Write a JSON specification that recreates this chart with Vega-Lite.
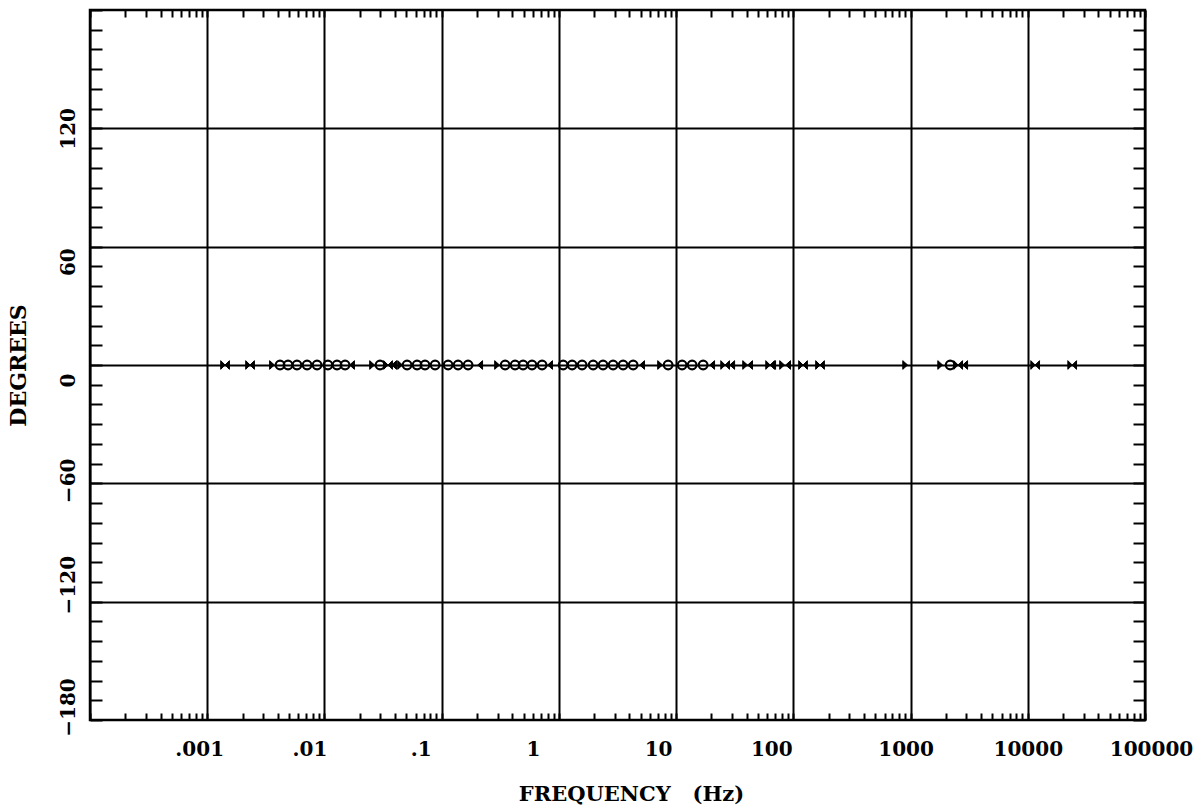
{
  "$schema": "https://vega.github.io/schema/vega-lite/v6.json",
  "width": 1055,
  "height": 710,
  "autosize": "none",
  "padding": {"left": 90, "top": 10, "right": 59, "bottom": 92},
  "background": "white",
  "config": {"view": {"stroke": "black", "strokeWidth": 2.5}},
  "datasets": {
    "pts": [
      {"f": 0.00142, "type": "bowtie"}, {"f": 0.00232, "type": "bowtie"}, {"f": 0.00357, "type": "right"},
      {"f": 0.00418, "type": "circle"}, {"f": 0.00489, "type": "circle"}, {"f": 0.00583, "type": "circle"},
      {"f": 0.00711, "type": "circle"}, {"f": 0.00865, "type": "circle"}, {"f": 0.0107, "type": "circle"},
      {"f": 0.0128, "type": "circle"}, {"f": 0.015, "type": "circle"}, {"f": 0.0172, "type": "left"},
      {"f": 0.0255, "type": "right"}, {"f": 0.0298, "type": "circle"}, {"f": 0.0349, "type": "bowtie"},
      {"f": 0.0393, "type": "left"}, {"f": 0.0442, "type": "right"}, {"f": 0.0507, "type": "circle"},
      {"f": 0.0617, "type": "circle"}, {"f": 0.0721, "type": "circle"}, {"f": 0.0879, "type": "circle"},
      {"f": 0.1135, "type": "circle"}, {"f": 0.138, "type": "circle"}, {"f": 0.168, "type": "circle"},
      {"f": 0.213, "type": "left"}, {"f": 0.297, "type": "right"}, {"f": 0.348, "type": "circle"},
      {"f": 0.423, "type": "circle"}, {"f": 0.495, "type": "circle"}, {"f": 0.59, "type": "circle"},
      {"f": 0.719, "type": "circle"}, {"f": 0.841, "type": "left"}, {"f": 1.087, "type": "circle"},
      {"f": 1.297, "type": "circle"}, {"f": 1.578, "type": "circle"}, {"f": 1.96, "type": "circle"},
      {"f": 2.38, "type": "circle"}, {"f": 2.9, "type": "circle"}, {"f": 3.53, "type": "circle"},
      {"f": 4.3, "type": "circle"}, {"f": 5.13, "type": "left"}, {"f": 7.3, "type": "right"},
      {"f": 8.55, "type": "circle"}, {"f": 11.25, "type": "circle"}, {"f": 13.7, "type": "circle"},
      {"f": 17.0, "type": "circle"}, {"f": 20.3, "type": "left"}, {"f": 26.2, "type": "bowtie"},
      {"f": 30.1, "type": "left"}, {"f": 38.8, "type": "right"}, {"f": 42.8, "type": "left"},
      {"f": 63.4, "type": "bowtie"}, {"f": 67.3, "type": "left"}, {"f": 80.2, "type": "right"},
      {"f": 90.3, "type": "left"}, {"f": 121, "type": "bowtie"}, {"f": 169, "type": "bowtie"},
      {"f": 900, "type": "right"}, {"f": 1790, "type": "right"}, {"f": 2178, "type": "circle"},
      {"f": 2548, "type": "bowtie"}, {"f": 2924, "type": "left"}, {"f": 11560, "type": "bowtie"},
      {"f": 23930, "type": "bowtie"}
    ]
  },
  "data": {"name": "pts"},
  "resolve": {"axis": {"x": "independent", "y": "independent"}},
  "layer": [
    {
      "transform": [{"filter": "datum.type == 'circle'"}],
      "mark": {"type": "point", "shape": "circle", "filled": false, "stroke": "black", "strokeWidth": 2.2, "size": 76, "opacity": 1},
      "encoding": {
        "x": {
          "field": "f", "type": "quantitative",
          "scale": {"type": "log", "domain": [0.0001, 100000], "nice": false},
          "axis": {
            "orient": "bottom",
            "title": "FREQUENCY\u00a0\u00a0\u00a0(Hz)",
            "titleFont": "DejaVu Serif", "titleFontSize": 21, "titleFontWeight": "bold", "titleColor": "black",
            "titleX": 541, "titleY": 80, "titleAlign": "center", "titleBaseline": "alphabetic",
            "domain": false,
            "values": [0.0001,0.0002,0.0003,0.0004,0.0005,0.0006,0.0007,0.0008,0.0009,
                       0.001,0.002,0.003,0.004,0.005,0.006,0.007,0.008,0.009,
                       0.01,0.02,0.03,0.04,0.05,0.06,0.07,0.08,0.09,
                       0.1,0.2,0.3,0.4,0.5,0.6,0.7,0.8,0.9,
                       1,2,3,4,5,6,7,8,9,
                       10,20,30,40,50,60,70,80,90,
                       100,200,300,400,500,600,700,800,900,
                       1000,2000,3000,4000,5000,6000,7000,8000,9000,
                       10000,20000,30000,40000,50000,60000,70000,80000,90000,100000],
            "labelExpr": "datum.value == 0.001 ? '.001' : datum.value == 0.01 ? '.01' : datum.value == 0.1 ? '.1' : datum.value == 1 ? '1' : datum.value == 10 ? '10' : datum.value == 100 ? '100' : datum.value == 1000 ? '1000' : datum.value == 10000 ? '10000' : datum.value == 100000 ? '100000' : ''",
            "labelFont": "DejaVu Serif", "labelFontSize": 20, "labelFontWeight": "bold", "labelColor": "black",
            "labelBaseline": "alphabetic", "labelAlign": "center", "labelPadding": 42,
            "labelFlush": false, "labelOverlap": false,
            "labelOffset": {"condition": [
              {"test": "datum.value == 0.001", "value": -8},
              {"test": "datum.value == 0.01", "value": -15},
              {"test": "datum.value == 0.1", "value": -21},
              {"test": "datum.value == 1", "value": -26},
              {"test": "datum.value == 10", "value": -18},
              {"test": "datum.value == 100", "value": -22},
              {"test": "datum.value == 1000", "value": -5},
              {"test": "datum.value == 100000", "value": 6}
            ], "value": 0},
            "ticks": true, "tickSize": -7, "tickWidth": 2, "tickColor": "black",
            "grid": true, "gridColor": "black", "gridWidth": 2,
            "gridOpacity": {"condition": {"test": "abs(log(datum.value)/LN10 - round(log(datum.value)/LN10)) < 0.000001", "value": 1}, "value": 0}
          }
        },
        "y": {
          "datum": 0, "type": "quantitative",
          "scale": {"domain": [-180, 180], "nice": false, "zero": false},
          "axis": {
            "orient": "left",
            "title": "DEGREES",
            "titleFont": "DejaVu Serif", "titleFontSize": 22, "titleFontWeight": "bold", "titleColor": "black",
            "titleAngle": -90, "titleX": -65, "titleY": 355, "titleAlign": "center", "titleBaseline": "alphabetic",
            "domain": false,
            "values": [-180,-170,-160,-150,-140,-130,-120,-110,-100,-90,-80,-70,-60,-50,-40,-30,-20,-10,0,10,20,30,40,50,60,70,80,90,100,110,120,130,140,150,160,170,180],
            "labelExpr": "(datum.value % 60 == 0 && datum.value < 180) ? format(datum.value, 'd') : ''",
            "labelFont": "DejaVu Serif", "labelFontSize": 20, "labelFontWeight": "bold", "labelColor": "black",
            "labelAngle": -90, "labelAlign": "center", "labelBaseline": "alphabetic", "labelPadding": 28,
            "labelFlush": false, "labelOverlap": false,
            "labelOffset": {"condition": [
              {"test": "datum.value == 60", "value": 15},
              {"test": "datum.value == 0", "value": 15},
              {"test": "datum.value == -60", "value": -3},
              {"test": "datum.value == -120", "value": -17},
              {"test": "datum.value == -180", "value": -13}
            ], "value": 0},
            "ticks": true, "tickSize": -12, "tickWidth": 2, "tickColor": "black",
            "grid": true, "gridColor": "black", "gridWidth": 2,
            "gridOpacity": {"condition": {"test": "datum.value % 60 == 0 && abs(datum.value) < 180", "value": 1}, "value": 0}
          }
        }
      }
    },
    {
      "transform": [{"filter": "datum.type != 'circle'"}],
      "mark": {"type": "point", "filled": true, "fill": "black", "stroke": "black", "strokeWidth": 1, "size": 76, "opacity": 1},
      "encoding": {
        "x": {
          "field": "f", "type": "quantitative",
          "scale": {"type": "log", "domain": [0.0001, 100000], "nice": false},
          "axis": {
            "orient": "top", "title": null, "labels": false, "domain": false, "grid": false,
            "values": [0.0001,0.0002,0.0003,0.0004,0.0005,0.0006,0.0007,0.0008,0.0009,
                       0.001,0.002,0.003,0.004,0.005,0.006,0.007,0.008,0.009,
                       0.01,0.02,0.03,0.04,0.05,0.06,0.07,0.08,0.09,
                       0.1,0.2,0.3,0.4,0.5,0.6,0.7,0.8,0.9,
                       1,2,3,4,5,6,7,8,9,
                       10,20,30,40,50,60,70,80,90,
                       100,200,300,400,500,600,700,800,900,
                       1000,2000,3000,4000,5000,6000,7000,8000,9000,
                       10000,20000,30000,40000,50000,60000,70000,80000,90000,100000],
            "ticks": true, "tickSize": -7, "tickWidth": 2, "tickColor": "black"
          }
        },
        "y": {
          "datum": 0, "type": "quantitative",
          "scale": {"domain": [-180, 180], "nice": false, "zero": false},
          "axis": {
            "orient": "right", "title": null, "labels": false, "domain": false, "grid": false,
            "values": [-180,-170,-160,-150,-140,-130,-120,-110,-100,-90,-80,-70,-60,-50,-40,-30,-20,-10,0,10,20,30,40,50,60,70,80,90,100,110,120,130,140,150,160,170,180],
            "ticks": true, "tickSize": -12, "tickWidth": 2, "tickColor": "black"
          }
        },
        "shape": {
          "field": "type", "type": "nominal", "legend": null,
          "scale": {"domain": ["right", "left", "bowtie"],
                    "range": ["M-0.55,-1L0.55,0L-0.55,1Z", "M0.55,-1L-0.55,0L0.55,1Z", "M-1,-1L0,0L-1,1Z M1,-1L0,0L1,1Z"]}
        }
      }
    }
  ]
}
